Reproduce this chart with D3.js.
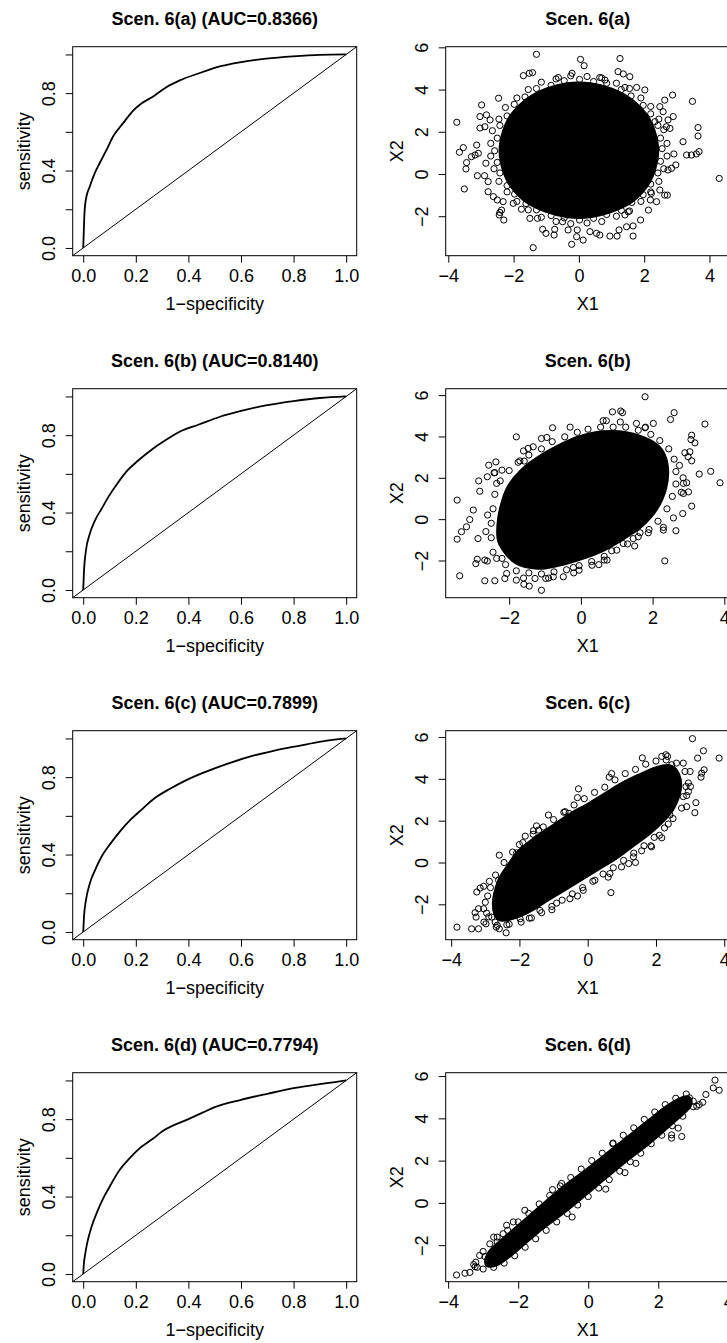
<!DOCTYPE html>
<html><head><meta charset="utf-8">
<script src="https://cdn.jsdelivr.net/npm/d3@7"></script>
<style>
body{margin:0;background:#fff}
svg{display:block}
text{font-family:"Liberation Sans",Arial,Helvetica,sans-serif;fill:#000}
.ttl{font-size:18px;font-weight:bold}
.lab,.tk text{font-size:18px}
</style>
</head><body>
<svg id="c" width="727" height="1343"></svg>
<script>
// ---------- DATA ----------
const scenarios = ["a", "b", "c", "d"];
const aucValues = ["0.8366", "0.8140", "0.7899", "0.7794"];
const rocTicks = [0, 0.2, 0.4, 0.6, 0.8, 1.0];
const rocYLabelTicks = [0, 0.4, 0.8];
const scatTicks = [-4, -2, 0, 2, 4, 6];

// ROC curves [1-specificity, sensitivity]
const rocA = [[0,0],[0.002,0.08],[0.004,0.16],[0.01,0.25],[0.025,0.318],[0.044,0.387],[0.063,0.439],[0.089,0.508],[0.114,0.577],[0.152,0.645],[0.19,0.71],[0.22,0.745],[0.266,0.783],[0.316,0.831],[0.367,0.866],[0.443,0.904],[0.506,0.933],[0.595,0.959],[0.696,0.978],[0.797,0.99],[0.899,0.998],[1,1]];
const rocB = [[0,0],[0.003,0.1],[0.01,0.2],[0.025,0.29],[0.045,0.36],[0.07,0.42],[0.1,0.49],[0.13,0.55],[0.17,0.62],[0.21,0.67],[0.26,0.725],[0.32,0.78],[0.37,0.82],[0.44,0.855],[0.52,0.895],[0.6,0.925],[0.7,0.955],[0.8,0.976],[0.9,0.992],[1,1]];
const rocC = [[0,0],[0.003,0.08],[0.01,0.16],[0.025,0.25],[0.045,0.32],[0.07,0.39],[0.1,0.45],[0.14,0.52],[0.18,0.58],[0.22,0.63],[0.27,0.69],[0.33,0.74],[0.4,0.79],[0.47,0.83],[0.55,0.87],[0.63,0.905],[0.72,0.935],[0.82,0.962],[0.91,0.985],[1,1]];
const rocD = [[0,0],[0.003,0.06],[0.006,0.09],[0.015,0.159],[0.032,0.245],[0.051,0.314],[0.076,0.391],[0.101,0.452],[0.139,0.538],[0.177,0.598],[0.215,0.65],[0.266,0.7],[0.3,0.736],[0.4,0.8],[0.456,0.835],[0.5,0.862],[0.6,0.9],[0.7,0.931],[0.8,0.96],[0.9,0.981],[0.95,0.99],[1,1]];

// scatter axis limits (X1, X2)
const scatXlim = [[-4.08, 4.62], [-3.77, 4.15], [-4.16, 4.16], [-4.07, 4.04]];
const scatYlim = [[-3.87, 6.03], [-3.80, 6.31], [-3.69, 6.30], [-3.73, 6.16]];

// dense (fully overplotted) cores of the scatter clouds
const coreA = [[-2.4,1.1],[-2.3,2.0],[-2.05,2.8],[-1.6,3.5],[-1.0,4.0],[-0.35,4.25],[0.35,4.25],[1.0,4.0],[1.6,3.5],[2.05,2.8],[2.3,2.0],[2.4,1.1],[2.3,0.2],[2.05,-0.6],[1.6,-1.3],[1.0,-1.75],[0.35,-2.0],[-0.35,-2.0],[-1.0,-1.75],[-1.6,-1.3],[-2.05,-0.6],[-2.3,0.2]];
const coreB = [[-2.25,-1.2],[-2.3,-0.3],[-2.2,0.7],[-2.0,1.6],[-1.65,2.35],[-1.2,2.95],[-0.65,3.5],[-0.05,3.95],[0.6,4.2],[1.3,4.15],[1.9,3.8],[2.25,3.3],[2.4,2.5],[2.35,1.5],[2.1,0.5],[1.7,-0.3],[1.2,-0.9],[0.6,-1.5],[0.0,-1.9],[-0.6,-2.2],[-1.2,-2.35],[-1.8,-2.1]];
const coreC = [[-2.75,-2.0],[-2.6,-0.9],[-2.3,-0.1],[-2.0,0.55],[-1.5,1.2],[-1.0,1.75],[-0.5,2.3],[0.0,2.75],[0.5,3.25],[1.0,3.75],[1.5,4.15],[2.0,4.5],[2.4,4.6],[2.65,4.2],[2.7,3.5],[2.5,2.6],[2.2,2.0],[1.8,1.4],[1.3,0.8],[0.8,0.2],[0.3,-0.3],[-0.2,-0.8],[-0.7,-1.3],[-1.2,-1.8],[-1.7,-2.3],[-2.2,-2.65],[-2.6,-2.7]];
const coreD = [[-2.8,-2.3],[-2.2,-1.4],[-1.5,-0.4],[-0.8,0.6],[0,1.6],[0.8,2.65],[1.6,3.7],[2.3,4.6],[2.8,5.0],[2.9,4.6],[2.4,3.8],[1.7,2.8],[1.0,1.9],[0.2,0.8],[-0.6,-0.3],[-1.4,-1.3],[-2.1,-2.3],[-2.6,-2.9],[-2.9,-2.9]];

// points around the edge of each dense core
const edgeA = [[2.55,1.2],[2.5,1.7],[2.42,2.3],[2.2,2.85],[1.97,3.25],[1.6,3.7],[1.3,4.0],[0.85,4.3],[0.45,4.38],[0.02,4.48],[-0.45,4.42],[-0.85,4.2],[-1.3,4.05],[-1.65,3.65],[-1.98,3.3],[-2.2,2.75],[-2.42,2.3],[-2.5,1.7],[-2.58,1.1],[-2.5,0.55],[-2.42,0.05],[-2.2,-0.55],[-1.97,-0.95],[-1.62,-1.4],[-1.3,-1.7],[-0.85,-1.97],[-0.45,-2.08],[0.02,-2.18],[0.45,-2.1],[0.85,-1.92],[1.3,-1.72],[1.62,-1.35],[1.97,-0.98],[2.2,-0.48],[2.42,0.05],[2.5,0.6],
  [2.7,1.45],[2.6,2.1],[2.45,2.6],[2.2,3.2],[1.9,3.6],[1.55,4.05],[1.15,4.3],[0.7,4.55],[0.25,4.62],[-0.25,4.65],[-0.7,4.5],[-1.15,4.35],[-1.55,4.0],[-1.9,3.6],[-2.25,3.15],[-2.45,2.6],[-2.65,2.05],[-2.7,1.45],[-2.7,0.85],[-2.6,0.25],[-2.45,-0.35],[-2.2,-0.85],[-1.9,-1.3],[-1.55,-1.7],[-1.15,-2.05],[-0.7,-2.25],[-0.25,-2.35],[0.25,-2.32],[0.7,-2.25],[1.15,-2.0],[1.55,-1.75],[1.9,-1.3],[2.2,-0.85],[2.45,-0.35],[2.6,0.25],[2.7,0.85]];
const edgeB = [[-2.45,-1.6],[-2.5,-0.9],[-2.5,-0.2],[-2.45,0.5],[-2.4,1.2],[-2.25,1.85],[-2.6,0.2],[-2.65,-0.6],[-2.2,-1.9],
  [-2.0,2.35],[-1.75,2.75],[-1.45,3.1],[-1.1,3.4],[-0.8,3.75],[-0.45,3.98],[-0.1,4.2],[0.2,4.35],[0.55,4.45],[-0.95,3.95],[-1.6,3.3],[-0.3,4.45],[-2.4,2.25],
  [0.9,4.45],[1.25,4.45],[1.6,4.3],[1.95,4.1],[2.2,3.8],[2.45,3.4],[1.1,4.7],[1.8,4.45],
  [2.6,2.9],[2.65,2.3],[2.65,1.7],[2.55,1.1],[2.4,0.5],[2.85,2.0],[2.8,1.3],[2.75,2.6],
  [2.15,-0.1],[1.9,-0.5],[1.6,-0.85],[1.3,-1.2],[1.0,-1.5],[0.65,-1.8],[0.3,-2.05],[-0.05,-2.25],[2.3,-0.4],[1.5,-1.3],[0.5,-2.2],
  [-0.4,-2.45],[-0.75,-2.55],[-1.1,-2.65],[-1.45,-2.6],[-1.8,-2.5],[-2.1,-2.2],[-2.35,-1.9],[-0.9,-2.85],[-1.6,-2.85],[-0.2,-2.6]];
const edgeC = [[-3.0,-1.9],[-2.85,-1.2],[-2.7,-0.6],[-2.45,0.0],[-2.2,0.5],[-1.9,0.95],[-1.6,1.35],[-1.3,1.7],[-1.0,2.05],[-0.7,2.4],[-0.4,2.75],[-0.1,3.05],[0.2,3.35],[0.5,3.6],[0.8,3.95],[1.1,4.25],[1.4,4.45],[1.7,4.7],[2.0,4.85],[2.3,4.9],[-1.5,1.75],[-0.3,3.1],[0.7,4.25],[1.6,5.0],
  [2.6,4.75],[2.85,4.35],[2.95,3.8],[2.9,3.2],[2.75,2.6],
  [2.5,2.1],[2.25,1.65],[1.95,1.2],[1.65,0.8],[1.35,0.45],[1.05,0.1],[0.75,-0.25],[0.45,-0.55],[0.15,-0.9],[-0.15,-1.2],[-0.45,-1.5],[-0.75,-1.8],[-1.05,-2.1],[-1.35,-2.4],[-1.65,-2.65],[-1.95,-2.85],[-2.3,-2.95],[-2.65,-3.0],[-2.9,-2.6],[1.2,-0.05],[-0.3,-1.6],[0.6,-0.7],[2.1,1.3]];
const edgeD = [[-3.0,-2.3],[-2.6,-1.85],[-2.3,-1.3],[-2.0,-0.9],[-1.7,-0.5],[-1.4,-0.05],[-1.1,0.35],[-0.8,0.8],[-0.5,1.2],[-0.2,1.6],[0.1,2.0],[0.4,2.35],[0.7,2.8],[1.0,3.2],[1.3,3.55],[1.6,3.95],[1.9,4.3],[2.2,4.65],[2.5,4.95],[2.8,5.15],[3.0,4.55],[2.7,4.1],[2.4,3.65],[2.1,3.2],[1.8,2.8],[1.5,2.35],[1.2,1.95],[0.9,1.5],[0.6,1.1],[0.3,0.7],[0.0,0.3],[-0.3,-0.1],[-0.6,-0.5],[-0.9,-0.9],[-1.2,-1.3],[-1.5,-1.7],[-1.8,-2.1],[-2.1,-2.5],[-2.4,-2.85],[-2.7,-3.05]];

// outlying points
const outA = [[-1.30,5.67],[0.05,5.43],[0.16,5.13],[1.26,5.47],[-0.21,4.77],[1.2,4.85],[1.36,4.74],[1.56,4.61],[-1.52,4.77],[-1.42,4.8],[-1.7,4.66],[-0.63,4.57],[0.64,4.57],[0.8,4.45],[2.87,3.74],[3.48,3.44],[2.63,3.5],[2.02,3.98],[1.77,4.1],[1.41,4.1],[-2.98,3.27],[-2.46,3.59],[-3.74,2.45],[-3.03,2.72],[-2.83,2.8],[-3.03,2.18],[-2.88,2.24],[-2.72,2.56],[-3.54,1.25],[-3.66,1.03],[-3.13,1.37],[-3.44,0.54],[-3.29,0.82],[-3.18,0.9],[-3.08,0.98],[-3.11,-0.08],[-2.89,-0.08],[-3.46,0.24],[-3.51,-0.71],[-2.85,0.51],[-2.78,-0.36],[-2.78,-0.84],[-2.62,-1.07],[-2.44,-1.94],[-2.37,-1.71],[-2.3,-2.18],[-2.42,-1.82],[-2.5,-1.23],[-2.32,-1.31],[-2.01,-1.39],[-1.76,-1.67],[-1.5,-2.1],[-1.27,-2.1],[-1.11,-2.62],[-1.01,-2.81],[-0.74,-2.62],[-0.76,-2.89],[-1.4,-3.49],[-0.5,-2.26],[-0.33,-2.65],[-0.22,-3.33],[-0.05,-2.65],[-0.07,-2.97],[0.13,-3.13],[0.34,-2.73],[0.54,-2.81],[0.64,-2.89],[0.95,-2.94],[1.17,-2.94],[1.23,-2.65],[1.46,-2.5],[1.66,-2.46],[1.66,-2.94],[1.41,-1.94],[1.51,-1.79],[1.89,-2.18],[2.13,-1.71],[2.19,-1.23],[2.38,-1.31],[2.63,-1.0],[2.71,-1.0],[2.48,-0.76],[2.22,-0.92],[4.3,-0.21],[3.68,1.06],[3.3,0.9],[3.45,0.9],[3.6,0.95],[3.19,1.53],[3.65,2.2],[3.65,1.8],[2.91,0.95],[2.97,0.43],[2.84,0.27],[2.73,0.19],[2.89,2.72],[2.73,2.56],[2.68,2.24],[2.79,2.16],[2.58,2.95],[2.48,3.19],[2.33,2.48]];
const outB = [[1.79,5.92],[0.88,5.19],[1.11,5.23],[1.16,5.15],[2.6,5.15],[2.5,4.82],[3.46,4.6],[0.62,4.76],[0.71,4.76],[1.55,4.63],[2.02,4.63],[1.79,4.42],[-0.79,4.42],[-1.8,3.98],[3.09,4.06],[3.18,3.69],[3.07,3.85],[3.04,3.26],[2.9,3.21],[2.99,3.02],[3.09,2.82],[3.3,2.18],[3.62,2.31],[3.88,1.76],[2.86,1.73],[2.95,1.76],[2.86,1.24],[3.0,1.32],[2.84,0.27],[3.09,0.63],[2.58,0.06],[2.65,-0.56],[2.3,-0.53],[2.34,-2.02],[-1.33,3.5],[-1.47,3.42],[-1.1,3.9],[-1.58,2.81],[-1.7,2.82],[-2.37,2.77],[-2.57,2.61],[-2.2,2.37],[-2.42,2.24],[-2.61,2.05],[-2.35,1.73],[-2.85,1.85],[-2.82,1.35],[-3.0,0.44],[-3.45,0.92],[-3.33,-0.61],[-3.45,-0.97],[-3.38,-2.74],[-3.1,-0.02],[-3.19,-0.37],[-2.87,-0.94],[-2.89,-1.94],[-2.93,-2.15],[-2.68,-1.98],[-2.61,-2.03],[-2.68,-2.98],[-2.4,-2.98],[-2.12,-2.87],[-2.07,-2.63],[-1.8,-2.95],[-1.59,-3.15],[-1.44,-3.24],[-1.1,-3.44],[-1.28,-2.87],[-0.98,-2.87],[-0.77,-2.79],[-0.49,-2.79],[-0.21,-2.34],[-0.05,-2.47],[0.31,-2.23],[0.65,-1.98],[0.73,-1.98],[0.86,-1.53],[1.18,-1.18],[1.46,-0.94],[1.65,-0.66],[1.88,-0.66]];
const outC = [[3.07,5.92],[3.39,5.34],[3.22,4.99],[3.85,4.99],[2.29,5.15],[2.34,5.07],[2.17,5.07],[2.8,4.75],[2.46,4.67],[3.41,4.43],[3.34,4.27],[3.32,4.08],[3.0,4.35],[2.88,3.63],[3.01,3.63],[2.95,3.39],[2.8,3.15],[2.9,2.67],[3.17,2.86],[3.14,2.38],[2.41,2.27],[2.36,1.84],[2.17,1.18],[1.85,0.8],[1.58,0.56],[1.4,0.0],[0.68,-1.44],[0.63,4.08],[-0.27,3.52],[-0.55,2.35],[-0.66,2.43],[-1.15,2.27],[-1.44,1.55],[-1.59,1.52],[-1.83,1.26],[-2.0,0.86],[-2.08,0.46],[-2.59,0.35],[-2.61,-0.85],[-2.88,-0.9],[-3.25,-1.41],[-3.15,-1.22],[-3.05,-1.14],[-2.93,-1.6],[-3.2,-2.21],[-3.3,-2.4],[-3.27,-2.61],[-3.05,-2.21],[-2.96,-2.42],[-2.98,-2.93],[-3.04,-2.85],[-2.71,-2.85],[-2.68,-3.09],[-2.59,-3.17],[-2.39,-3.36],[-2.37,-2.98],[-3.4,-3.17],[-3.2,-3.17],[-3.83,-3.09],[-2.81,-2.61],[-2.47,-2.45],[-1.98,-2.69],[-1.71,-2.66],[-1.4,-2.29],[-1.05,-2.26],[-0.91,-1.94],[-0.52,-1.73],[-0.13,-1.33],[0.21,-0.85],[0.65,-0.53],[0.99,-0.21],[1.34,0.27],[1.87,0.75]];
const outD = [[3.62,5.81],[3.57,5.44],[3.74,5.33],[3.36,5.13],[3.27,4.76],[3.17,4.65],[3.1,4.57],[3.0,4.81],[2.89,4.97],[2.76,4.89],[2.57,3.54],[2.38,3.06],[2.67,3.14],[2.38,3.22],[1.36,1.87],[1.05,1.43],[0.71,2.83],[0.5,0.65],[-0.46,-0.67],[-1.02,0.63],[-0.76,0.92],[-1.81,-0.35],[-2.14,-0.9],[-2.33,-1.06],[-2.81,-1.94],[-2.7,-1.62],[-2.6,-1.62],[-2.43,-1.46],[-2.33,-2.1],[-2.57,-2.22],[-2.64,-2.73],[-2.86,-2.65],[-2.95,-2.54],[-3.1,-2.49],[-3.21,-2.81],[-3.27,-2.92],[-3.17,-3.05],[-3.0,-3.13],[-3.38,-3.29],[-3.52,-3.33],[-3.76,-3.41],[-3.23,-3.02]];

const rocData = [rocA, rocB, rocC, rocD];
const cores = [coreA, coreB, coreC, coreD];
const edges = [edgeA, edgeB, edgeC, edgeD];
const outs = [outA, outB, outC, outD];

// ---------- LAYOUT ----------
const colLeft = [72.7, 445.7];
const boxW = 284, boxH = 209;
const rowTop = [46.7, 388.7, 730.7, 1072.7];
const svg = d3.select("#c");
const f1 = d3.format(".1f");
const fInt = d3.format("d");

function panelAxes(g, x, y, xt, yt, xfmt, yfmt, title, xlab, ylab) {
  const xa = g.append("g").attr("class", "tk").attr("transform", `translate(0,${boxH})`)
    .call(d3.axisBottom(x).tickValues(xt).tickFormat(xfmt).tickSize(7).tickSizeOuter(0));
  const ya = g.append("g").attr("class", "tk")
    .call(d3.axisLeft(y).tickValues(yt).tickFormat(yfmt).tickSize(7).tickSizeOuter(0));
  [xa, ya].forEach(a => {
    a.attr("font-size", null).attr("font-family", null);
    a.select(".domain").remove();
    a.selectAll(".tick line").attr("stroke", "#000").attr("stroke-width", 1);
  });
  xa.selectAll(".tick text").attr("y", 26).attr("dy", null);
  ya.selectAll(".tick text").attr("x", 0).attr("dy", "0.35em")
    .attr("text-anchor", "middle").attr("transform", "translate(-24,0) rotate(-90)");
  g.append("rect").attr("width", boxW).attr("height", boxH)
    .attr("fill", "none").attr("stroke", "#000").attr("stroke-width", 1);
  g.append("text").attr("class", "ttl").attr("x", boxW / 2).attr("y", -21.7)
    .attr("text-anchor", "middle").text(title);
  g.append("text").attr("class", "lab").attr("x", boxW / 2).attr("y", boxH + 54.5)
    .attr("text-anchor", "middle").text(xlab);
  g.append("text").attr("class", "lab").attr("text-anchor", "middle")
    .attr("transform", `translate(-43,${boxH / 2}) rotate(-90)`).text(ylab);
}

scenarios.forEach((s, i) => {
  // ---- ROC panel ----
  const g = svg.append("g").attr("transform", `translate(${colLeft[0]},${rowTop[i]})`);
  const x = d3.scaleLinear().domain([-0.04, 1.04]).range([0, boxW]);
  const y = d3.scaleLinear().domain([-0.04, 1.04]).range([boxH, 0]);
  const line = d3.line().x(d => x(d[0])).y(d => y(d[1])).curve(d3.curveMonotoneX);
  g.append("path").datum([[-0.04, -0.04], [1.04, 1.04]])
    .attr("d", d3.line().x(d => x(d[0])).y(d => y(d[1])))
    .attr("stroke", "#000").attr("stroke-width", 1).attr("fill", "none");
  g.append("path").datum(rocData[i]).attr("d", line)
    .attr("stroke", "#000").attr("stroke-width", 1.8).attr("fill", "none");
  panelAxes(g, x, y, rocTicks, rocTicks, f1,
    d => rocYLabelTicks.includes(d) ? f1(d) : "",
    `Scen. 6(${s}) (AUC=${aucValues[i]})`, "1\u2212specificity", "sensitivity");

  // ---- scatter panel ----
  const g2 = svg.append("g").attr("transform", `translate(${colLeft[1]},${rowTop[i]})`);
  const sx = d3.scaleLinear().domain(scatXlim[i]).range([0, boxW]);
  const sy = d3.scaleLinear().domain(scatYlim[i]).range([boxH, 0]);
  g2.append("path").datum(cores[i])
    .attr("d", d3.line().x(d => sx(d[0])).y(d => sy(d[1])).curve(d3.curveCardinalClosed))
    .attr("fill", "#000").attr("stroke", "#000").attr("stroke-width", 4);
  g2.append("g").selectAll("circle").data(edges[i].concat(outs[i])).join("circle")
    .attr("cx", d => sx(d[0])).attr("cy", d => sy(d[1])).attr("r", 3.1)
    .attr("fill", "none").attr("stroke", "#000").attr("stroke-width", 1);
  const xt = scatTicks.filter(t => t >= scatXlim[i][0] && t <= scatXlim[i][1]);
  const yt = scatTicks.filter(t => t >= scatYlim[i][0] && t <= scatYlim[i][1]);
  panelAxes(g2, sx, sy, xt, yt, fInt, fInt, `Scen. 6(${s})`, "X1", "X2");
});
</script>
</body></html>
